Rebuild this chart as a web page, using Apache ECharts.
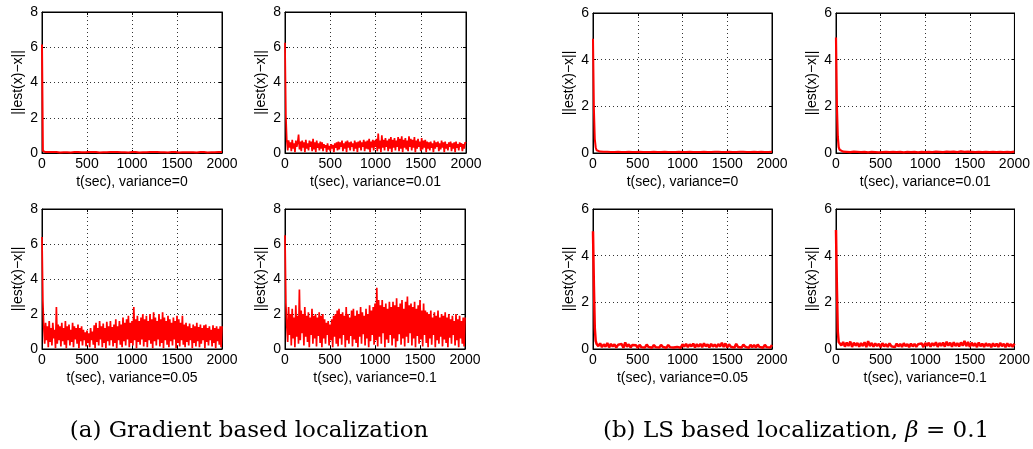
<!DOCTYPE html>
<html><head><meta charset="utf-8">
<script src="https://cdn.jsdelivr.net/npm/echarts@6/dist/echarts.min.js"></script>
<style>html,body{margin:0;padding:0;background:#fff}#c{width:1033px;height:449px}</style>
</head><body><div id="c"></div>
<script>
// ---- data ----
// sampling times (s) for the smooth panels
const times = [0, 10, 20, 30, 40,
  60, 80, 100, 120, 140, 160, 180, 200, 220, 240,
  260, 280, 300, 320, 340, 360, 380, 400, 420, 440,
  460, 480, 500, 520, 540, 560, 580, 600, 620, 640,
  660, 680, 700, 720, 740, 760, 780, 800, 820, 840,
  860, 880, 900, 920, 940, 960, 980, 1000, 1020, 1040,
  1060, 1080, 1100, 1120, 1140, 1160, 1180, 1200, 1220, 1240,
  1260, 1280, 1300, 1320, 1340, 1360, 1380, 1400, 1420, 1440,
  1460, 1480, 1500, 1520, 1540, 1560, 1580, 1600, 1620, 1640,
  1660, 1680, 1700, 1720, 1740, 1760, 1780, 1800, 1820, 1840,
  1860, 1880, 1900, 1920, 1940, 1960, 1980, 2000];

// finer sampling times (s) for the noisy gradient panels
const timesFine = [
  0, 10, 20, 30, 40, 50, 60, 70, 80, 90, 100, 110, 120, 130, 140, 150, 160, 170, 180, 190,
  200, 210, 220, 230, 240, 250, 260, 270, 280, 290, 300, 310, 320, 330, 340, 350, 360, 370, 380, 390,
  400, 410, 420, 430, 440, 450, 460, 470, 480, 490, 500, 510, 520, 530, 540, 550, 560, 570, 580, 590,
  600, 610, 620, 630, 640, 650, 660, 670, 680, 690, 700, 710, 720, 730, 740, 750, 760, 770, 780, 790,
  800, 810, 820, 830, 840, 850, 860, 870, 880, 890, 900, 910, 920, 930, 940, 950, 960, 970, 980, 990,
  1000, 1010, 1020, 1030, 1040, 1050, 1060, 1070, 1080, 1090, 1100, 1110, 1120, 1130, 1140, 1150, 1160, 1170, 1180, 1190,
  1200, 1210, 1220, 1230, 1240, 1250, 1260, 1270, 1280, 1290, 1300, 1310, 1320, 1330, 1340, 1350, 1360, 1370, 1380, 1390,
  1400, 1410, 1420, 1430, 1440, 1450, 1460, 1470, 1480, 1490, 1500, 1510, 1520, 1530, 1540, 1550, 1560, 1570, 1580, 1590,
  1600, 1610, 1620, 1630, 1640, 1650, 1660, 1670, 1680, 1690, 1700, 1710, 1720, 1730, 1740, 1750, 1760, 1770, 1780, 1790,
  1800, 1810, 1820, 1830, 1840, 1850, 1860, 1870, 1880, 1890, 1900, 1910, 1920, 1930, 1940, 1950, 1960, 1970, 1980, 1990,
  2000];

// (a) gradient based localization
const gradVar0 = [6.15, 0.12, 0.05, 0.04, 0.05,
  0.04, 0.05, 0.03, 0.05, 0.04, 0.05, 0.04, 0.03, 0.05, 0.04,
  0.05, 0.04, 0.05, 0.03, 0.04, 0.05, 0.04, 0.05, 0.03, 0.04,
  0.05, 0.04, 0.03, 0.05, 0.04, 0.05, 0.04, 0.05, 0.04, 0.03,
  0.05, 0.04, 0.05, 0.04, 0.03, 0.05, 0.04, 0.05, 0.04, 0.05,
  0.03, 0.04, 0.05, 0.04, 0.05, 0.03, 0.04, 0.05, 0.04, 0.05,
  0.04, 0.03, 0.05, 0.04, 0.05, 0.04, 0.03, 0.05, 0.04, 0.05,
  0.04, 0.05, 0.03, 0.04, 0.05, 0.04, 0.05, 0.03, 0.04, 0.05,
  0.04, 0.05, 0.04, 0.03, 0.05, 0.04, 0.05, 0.04, 0.03, 0.04,
  0.05, 0.04, 0.05, 0.03, 0.04, 0.05, 0.04, 0.05, 0.04, 0.03,
  0.05, 0.04, 0.05, 0.04, 0.03, 0.05, 0.04, 0.05];

const gradVar001 = [
  6.25, 2.1, 0.7, 0.15, 0.72, 0.3, 0.6, 0.1, 0.75, 0.25, 0.55, 0.05, 0.7, 0.35, 0.6, 1.05, 0.2, 0.65, 0.1, 0.7,
  0.3, 0.6, 0.05, 0.75, 0.25, 0.55, 0.15, 0.7, 0.35, 0.65, 0.1, 0.8, 0.2, 0.6, 0.05, 0.7, 0.3, 0.55, 0.15, 0.65,
  0.25, 0.6, 0.1, 0.5, 0.3, 0.45, 0.05, 0.55, 0.2, 0.4, 0.1, 0.5, 0.25, 0.45, 0.05, 0.55, 0.3, 0.6, 0.15, 0.65,
  0.2, 0.6, 0.35, 0.7, 0.1, 0.55, 0.25, 0.65, 0.05, 0.7, 0.3, 0.6, 0.15, 0.65, 0.35, 0.55, 0.1, 0.7, 0.25, 0.6,
  0.05, 0.65, 0.3, 0.7, 0.15, 0.6, 0.35, 0.75, 0.1, 0.65, 0.25, 0.7, 0.2, 0.8, 0.05, 0.65, 0.3, 0.75, 0.15, 0.7,
  0.35, 0.8, 0.1, 1.1, 0.25, 0.7, 0.05, 1.0, 0.3, 0.75, 0.15, 0.85, 0.35, 0.7, 0.1, 0.8, 0.25, 0.9, 0.05, 0.75,
  0.3, 0.85, 0.15, 0.7, 0.35, 0.9, 0.1, 0.8, 0.25, 0.95, 0.05, 0.75, 0.3, 0.85, 0.2, 0.7, 0.1, 0.95, 0.35, 0.8,
  0.15, 0.75, 0.3, 0.9, 0.05, 0.7, 0.25, 0.8, 0.35, 0.65, 0.1, 0.85, 0.2, 0.7, 0.3, 0.75, 0.05, 0.65, 0.25, 0.6,
  0.15, 0.65, 0.3, 0.55, 0.05, 0.7, 0.25, 0.6, 0.35, 0.65, 0.1, 0.55, 0.2, 0.7, 0.3, 0.6, 0.05, 0.65, 0.25, 0.5,
  0.15, 0.6, 0.35, 0.65, 0.1, 0.55, 0.25, 0.6, 0.05, 0.65, 0.3, 0.5, 0.15, 0.6, 0.35, 0.55, 0.1, 0.5, 0.25, 0.6,
  0.55];

const gradVar005 = [
  6.4, 2.7, 1.2, 0.3, 1.5, 0.5, 1.3, 0.1, 1.6, 0.4, 1.2, 0.2, 1.5, 0.6, 1.1, 0.05, 2.4, 0.3, 1.4, 0.5,
  1.3, 0.15, 1.5, 0.45, 1.2, 0.25, 1.6, 0.05, 1.3, 0.5, 1.4, 0.2, 1.1, 0.4, 1.5, 0.1, 1.3, 0.55, 1.2, 0.3,
  1.4, 0.05, 1.2, 0.45, 1.3, 0.2, 1.1, 0.5, 0.95, 0.15, 1.05, 0.35, 0.9, 0.1, 1.2, 0.5, 1.0, 0.25, 1.35, 0.05,
  1.5, 0.4, 1.2, 0.2, 1.6, 0.55, 1.3, 0.1, 1.45, 0.35, 1.2, 0.05, 1.55, 0.45, 1.3, 0.2, 1.6, 0.5, 1.25, 0.15,
  1.4, 0.35, 1.7, 0.05, 1.3, 0.5, 1.6, 0.25, 1.4, 0.1, 1.8, 0.45, 1.5, 0.2, 1.7, 0.55, 1.9, 0.1, 1.5, 0.35,
  1.6, 0.2, 2.4, 0.5, 1.7, 0.05, 1.9, 0.4, 1.6, 0.25, 1.8, 0.55, 2.0, 0.15, 1.7, 0.4, 1.9, 0.1, 1.6, 0.5,
  2.0, 0.3, 1.7, 0.05, 2.1, 0.45, 1.8, 0.2, 1.6, 0.55, 2.0, 0.15, 1.7, 0.35, 2.1, 0.05, 1.8, 0.5, 1.6, 0.25,
  1.9, 0.1, 1.7, 0.45, 1.5, 0.2, 1.8, 0.55, 1.6, 0.05, 1.9, 0.35, 1.7, 0.15, 1.5, 0.5, 1.9, 0.25, 1.4, 0.1,
  1.5, 0.4, 1.3, 0.2, 1.45, 0.5, 1.2, 0.05, 1.4, 0.35, 1.3, 0.15, 1.5, 0.45, 1.25, 0.1, 1.4, 0.3, 1.2, 0.5,
  1.35, 0.05, 1.4, 0.4, 1.2, 0.2, 1.3, 0.5, 1.1, 0.15, 1.35, 0.35, 1.2, 0.05, 1.3, 0.45, 1.15, 0.25, 1.3, 0.1,
  1.3];

const gradVar01 = [
  6.5, 2.6, 1.3, 0.4, 2.4, 0.8, 2.0, 0.2, 2.3, 0.6, 1.8, 0.1, 2.5, 0.7, 1.9, 0.3, 3.4, 0.5, 2.2, 0.9,
  2.0, 0.2, 2.4, 0.7, 1.9, 0.4, 2.1, 0.1, 1.8, 0.8, 2.3, 0.3, 1.9, 0.6, 2.0, 0.15, 1.8, 0.75, 2.1, 0.35,
  1.9, 0.1, 2.0, 0.6, 1.7, 0.3, 1.5, 0.8, 1.6, 0.2, 1.4, 0.5, 1.7, 0.1, 1.9, 0.7, 2.0, 0.3, 2.2, 0.15,
  2.3, 0.6, 2.0, 0.25, 2.1, 0.8, 1.9, 0.1, 2.4, 0.5, 2.0, 0.3, 1.8, 0.75, 2.2, 0.15, 2.3, 0.55, 1.9, 0.35,
  2.2, 0.1, 2.0, 0.7, 2.4, 0.3, 2.1, 0.85, 1.9, 0.2, 2.3, 0.6, 2.0, 0.1, 2.5, 0.45, 2.2, 0.8, 2.4, 0.25,
  2.6, 0.5, 3.5, 0.15, 2.8, 0.7, 2.5, 0.3, 2.8, 0.9, 2.4, 0.1, 2.6, 0.55, 2.3, 0.35, 2.7, 0.8, 2.4, 0.2,
  2.7, 0.6, 2.5, 0.1, 2.9, 0.45, 2.4, 0.85, 2.6, 0.25, 2.8, 0.6, 2.3, 0.15, 2.7, 0.7, 3.0, 0.35, 2.5, 0.9,
  2.6, 0.2, 2.4, 0.6, 2.7, 0.1, 2.3, 0.75, 2.5, 0.3, 2.8, 0.55, 2.2, 0.15, 2.6, 0.8, 2.2, 0.35, 2.1, 0.1,
  2.0, 0.6, 2.2, 0.25, 1.8, 0.8, 2.1, 0.1, 1.9, 0.5, 2.2, 0.3, 1.8, 0.7, 2.0, 0.15, 1.9, 0.55, 2.1, 0.35,
  1.8, 0.1, 2.0, 0.65, 1.7, 0.3, 1.9, 0.8, 1.6, 0.2, 2.0, 0.5, 1.7, 0.1, 1.9, 0.6, 1.6, 0.3, 1.8, 0.15,
  1.8];

// (b) LS based localization
const lsVar0 = [4.9, 1.9, 0.6, 0.25, 0.12,
  0.08, 0.06, 0.05, 0.05, 0.04, 0.05, 0.04, 0.04, 0.05, 0.04,
  0.04, 0.05, 0.04, 0.04, 0.05, 0.04, 0.04, 0.05, 0.04, 0.04,
  0.05, 0.04, 0.04, 0.05, 0.04, 0.04, 0.05, 0.04, 0.05, 0.04,
  0.04, 0.05, 0.04, 0.04, 0.05, 0.04, 0.04, 0.05, 0.04, 0.04,
  0.05, 0.04, 0.05, 0.04, 0.04, 0.05, 0.04, 0.04, 0.05, 0.04,
  0.04, 0.05, 0.04, 0.04, 0.05, 0.04, 0.05, 0.04, 0.04, 0.05,
  0.04, 0.04, 0.05, 0.04, 0.04, 0.05, 0.04, 0.05, 0.04, 0.04,
  0.05, 0.04, 0.04, 0.05, 0.04, 0.04, 0.05, 0.04, 0.04, 0.05,
  0.04, 0.05, 0.04, 0.04, 0.05, 0.04, 0.04, 0.05, 0.04, 0.04,
  0.04, 0.05, 0.04, 0.04, 0.05, 0.04, 0.04, 0.05];

const lsVar001 = [4.95, 2.0, 0.7, 0.25, 0.14,
  0.1, 0.06, 0.12, 0.05, 0.1, 0.04, 0.09, 0.06, 0.11, 0.05,
  0.08, 0.04, 0.1, 0.05, 0.07, 0.03, 0.09, 0.05, 0.08, 0.04,
  0.07, 0.03, 0.06, 0.04, 0.08, 0.05, 0.09, 0.04, 0.07, 0.05,
  0.08, 0.04, 0.09, 0.05, 0.07, 0.03, 0.08, 0.05, 0.09, 0.04,
  0.07, 0.05, 0.08, 0.03, 0.09, 0.05, 0.07, 0.04, 0.1, 0.05,
  0.09, 0.04, 0.1, 0.06, 0.11, 0.05, 0.09, 0.04, 0.1, 0.06,
  0.11, 0.05, 0.12, 0.06, 0.1, 0.04, 0.11, 0.07, 0.13, 0.05,
  0.12, 0.06, 0.1, 0.05, 0.09, 0.04, 0.1, 0.05, 0.08, 0.04,
  0.09, 0.05, 0.08, 0.04, 0.09, 0.05, 0.1, 0.04, 0.08, 0.05,
  0.09, 0.04, 0.1, 0.05, 0.08, 0.04, 0.11, 0.06];

const lsVar005 = [5.05, 2.7, 0.9, 0.35, 0.22,
  0.12, 0.24, 0.08, 0.2, 0.1, 0.26, 0.07, 0.22, 0.11, 0.2,
  0.06, 0.18, 0.1, 0.21, 0.05, 0.28, 0.09, 0.2, 0.07, 0.17,
  0.1, 0.16, 0.05, 0.18, 0.08, 0.15, 0.06, 0.19, 0.09, 0.14,
  0.05, 0.17, 0.08, 0.16, 0.06, 0.18, 0.09, 0.15, 0.05, 0.17,
  0.08, 0.16, 0.06, 0.14, 0.09, 0.17, 0.05, 0.2, 0.1, 0.22,
  0.08, 0.2, 0.11, 0.23, 0.07, 0.21, 0.1, 0.22, 0.08, 0.24,
  0.11, 0.2, 0.07, 0.22, 0.1, 0.19, 0.08, 0.21, 0.11, 0.27,
  0.09, 0.24, 0.07, 0.2, 0.1, 0.18, 0.06, 0.22, 0.09, 0.17,
  0.06, 0.19, 0.1, 0.16, 0.05, 0.18, 0.08, 0.17, 0.06, 0.19,
  0.09, 0.16, 0.05, 0.18, 0.08, 0.15, 0.06, 0.17];

const lsVar01 = [5.1, 2.6, 0.75, 0.3, 0.25,
  0.15, 0.3, 0.1, 0.28, 0.13, 0.32, 0.09, 0.27, 0.14, 0.26,
  0.1, 0.25, 0.13, 0.29, 0.08, 0.34, 0.12, 0.26, 0.1, 0.24,
  0.13, 0.22, 0.08, 0.25, 0.11, 0.21, 0.09, 0.24, 0.12, 0.2,
  0.08, 0.23, 0.11, 0.22, 0.09, 0.25, 0.12, 0.21, 0.08, 0.23,
  0.11, 0.22, 0.09, 0.2, 0.12, 0.24, 0.08, 0.26, 0.13, 0.27,
  0.1, 0.25, 0.14, 0.29, 0.09, 0.26, 0.13, 0.28, 0.1, 0.31,
  0.14, 0.27, 0.1, 0.29, 0.13, 0.25, 0.11, 0.28, 0.14, 0.35,
  0.12, 0.3, 0.09, 0.27, 0.13, 0.25, 0.08, 0.28, 0.12, 0.23,
  0.09, 0.25, 0.13, 0.22, 0.08, 0.24, 0.11, 0.23, 0.09, 0.26,
  0.12, 0.22, 0.08, 0.24, 0.11, 0.21, 0.09, 0.23];

const xNames = ['t(sec), variance=0', 't(sec), variance=0.01', 't(sec), variance=0.05', 't(sec), variance=0.1'];
const yName = '||est(x)\u2212x||';
const xMax = 2000, xStep = 500;
const gradYMax = 8, lsYMax = 6, yStep = 2;
const captionA = '(a) Gradient based localization';
const captionB = '(b) LS based localization, {i|\u03b2} = 0.1';

// ---- layout ----
const layouts = [
  {left: 42, top: 12, width: 180, height: 141},
  {left: 285, top: 12, width: 181, height: 141},
  {left: 42, top: 209, width: 180, height: 140},
  {left: 285, top: 209, width: 180, height: 140},
  {left: 593, top: 13, width: 179, height: 140},
  {left: 836, top: 13, width: 180, height: 140},
  {left: 593, top: 209, width: 179, height: 140},
  {left: 836, top: 209, width: 180, height: 140}
];
const panels = [
  {t: times, values: gradVar0, xName: xNames[0], yMax: gradYMax, lw: 2},
  {t: timesFine, values: gradVar001, xName: xNames[1], yMax: gradYMax, lw: 1.7},
  {t: timesFine, values: gradVar005, xName: xNames[2], yMax: gradYMax, lw: 1.7},
  {t: timesFine, values: gradVar01, xName: xNames[3], yMax: gradYMax, lw: 1.7},
  {t: times, values: lsVar0, xName: xNames[0], yMax: lsYMax, lw: 2},
  {t: times, values: lsVar001, xName: xNames[1], yMax: lsYMax, lw: 2.2},
  {t: times, values: lsVar005, xName: xNames[2], yMax: lsYMax, lw: 2.5},
  {t: times, values: lsVar01, xName: xNames[3], yMax: lsYMax, lw: 2.5}
];

const FONT = 'Liberation Sans, Arial, Helvetica, sans-serif';
const grid = [], xAxis = [], yAxis = [], series = [];
const tick = {show: true, inside: true, length: 3, lineStyle: {color: '#000', width: 1}};
const axLine = {show: true, onZero: false, lineStyle: {color: '#000', width: 1}};
const split = {show: true, lineStyle: {type: [1, 3], color: '#333', width: 1}};
panels.forEach((p, i) => {
  const L = layouts[i];
  grid.push({left: L.left, top: L.top, width: L.width, height: L.height, show: true, borderColor: '#000', borderWidth: 1, backgroundColor: '#fff'});
  xAxis.push({type: 'value', gridIndex: i, min: 0, max: xMax, interval: xStep, position: 'bottom',
    axisLine: axLine, axisTick: tick, splitLine: split,
    axisLabel: {color: '#000', fontSize: 14, fontFamily: FONT, margin: 4, formatter: v => String(v)},
    name: p.xName, nameLocation: 'middle', nameGap: 22,
    nameTextStyle: {color: '#000', fontSize: 14, fontFamily: FONT}});
  xAxis.push({type: 'value', gridIndex: i, min: 0, max: xMax, interval: xStep, position: 'top',
    axisLine: axLine, axisTick: tick, splitLine: {show: false}, axisLabel: {show: false}});
  yAxis.push({type: 'value', gridIndex: i, min: 0, max: p.yMax, interval: yStep, position: 'left',
    axisLine: axLine, axisTick: tick, splitLine: split,
    axisLabel: {color: '#000', fontSize: 14, fontFamily: FONT, margin: 4},
    name: yName, nameLocation: 'middle', nameGap: 17,
    nameTextStyle: {color: '#000', fontSize: 14, fontFamily: FONT}});
  yAxis.push({type: 'value', gridIndex: i, min: 0, max: p.yMax, interval: yStep, position: 'right',
    axisLine: axLine, axisTick: tick, splitLine: {show: false}, axisLabel: {show: false}});
  series.push({type: 'line', xAxisIndex: 2 * i, yAxisIndex: 2 * i, symbol: 'none', showSymbol: false,
    data: p.t.map((t, k) => [t, p.values[k]]),
    lineStyle: {color: '#ff0000', width: p.lw}, itemStyle: {color: '#ff0000'}, z: 1});
});

const chart = echarts.init(document.getElementById('c'), null, {renderer: 'canvas'});
chart.setOption({
  animation: false,
  backgroundColor: '#fff',
  grid, xAxis, yAxis, series,
  title: [
    {text: captionA, left: 249, top: 420, textAlign: 'center', padding: 0,
     textStyle: {color: '#000', fontSize: 23, fontWeight: 'normal', fontFamily: 'DejaVu Serif'}},
    {text: captionB, left: 796, top: 420, textAlign: 'center', padding: 0,
     textStyle: {color: '#000', fontSize: 23, fontWeight: 'normal', fontFamily: 'DejaVu Serif',
       rich: {i: {fontStyle: 'italic', fontSize: 23, fontFamily: 'DejaVu Serif', color: '#000'}}}}
  ]
});
</script>
</body></html>
